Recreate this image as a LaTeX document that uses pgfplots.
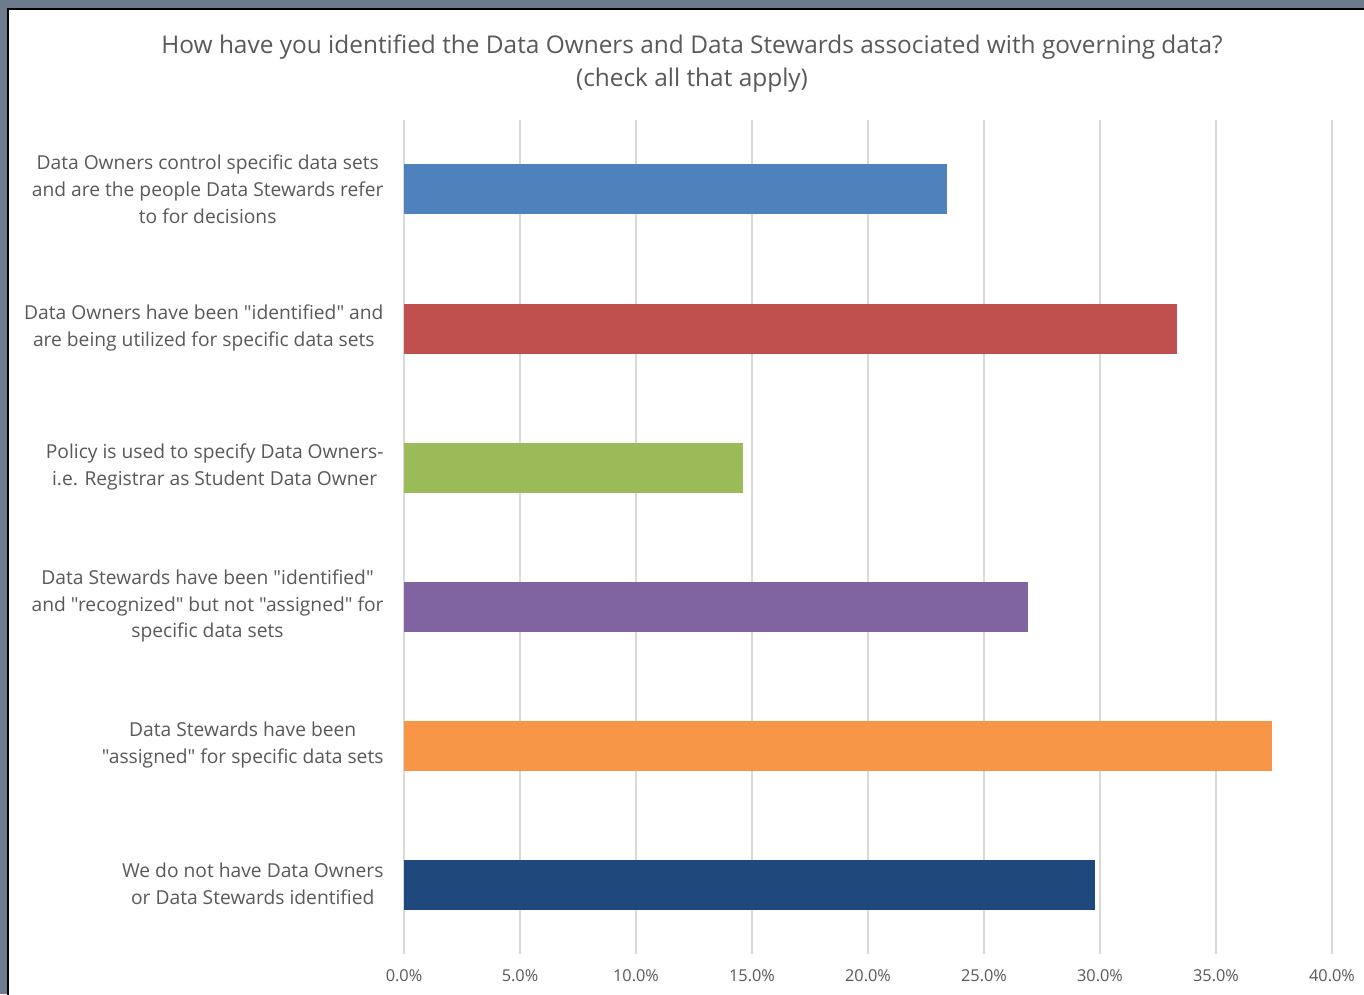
\documentclass[border=0pt]{standalone}
\usepackage{pgfplots}
\pgfplotsset{compat=1.18}
\usepackage{fontspec}
\setmainfont{Open Sans}
\newfontfamily\lab{Open Sans}
\definecolor{framegray}{HTML}{6E7B8C}
\definecolor{textgray}{HTML}{595959}
\definecolor{gridgray}{HTML}{D9D9D9}
\definecolor{cBlue}{HTML}{4F81BD}
\definecolor{cRed}{HTML}{C0504D}
\definecolor{cGreen}{HTML}{9BBB59}
\definecolor{cPurple}{HTML}{8064A2}
\definecolor{cOrange}{HTML}{F79646}
\definecolor{cNavy}{HTML}{1F497D}
\begin{document}
\begin{tikzpicture}[x=1bp,y=1bp]
\fill[framegray] (0,0) rectangle (1364,994);
\path[use as bounding box] (0,0) rectangle (1364,994);
\filldraw[fill=white,draw=black,line width=2bp] (8,-20) rectangle (1390,985);
\node[align=center,text=textgray,font=\lab\fontsize{24.5}{33}\selectfont] at (692,930)
  {How have you identified the Data Owners and Data Stewards associated with governing data?\\(check all that apply)};
\begin{axis}[
    at={(404bp,40bp)}, anchor=south west,
    scale only axis, width=928bp, height=834bp,
    xbar, bar width=50bp, bar shift=0pt,
    xmin=0, xmax=40, ymin=-0.5, ymax=5.5, y dir=reverse,
    xtick={0,5,...,40}, ytick={0,...,5},
    xmajorgrids, major grid style={draw=gridgray,line width=1.5bp},
    axis line style={draw=none}, major tick length=0pt,
    xticklabel={\pgfmathprintnumber[fixed,fixed zerofill,precision=1]{\tick}\%},
    /pgf/number format/assume math mode=true,
    xticklabel style={font=\lab\fontsize{16.4}{20}\selectfont,text=textgray,yshift=-12bp},
    yticklabels={
      {Data Owners control specific data sets\\and are the people Data Stewards refer\\to for decisions},
      {Data Owners have been "identified" and\\are being utilized for specific data sets},
      {Policy is used to specify Data Owners-\\i.e. Registrar as Student Data Owner},
      {Data Stewards have been "identified"\\and "recognized" but not "assigned" for\\specific data sets},
      {Data Stewards have been\\"assigned" for specific data sets},
      {We do not have Data Owners\\or Data Stewards identified}},
    yticklabel style={font=\lab\fontsize{19.3}{27}\selectfont,text=textgray,align=center,xshift=-17bp,yshift=0.5bp},
  ]
  \addplot[fill=cBlue,draw=none] coordinates {(23.4,0)};
  \addplot[fill=cRed,draw=none] coordinates {(33.3,1)};
  \addplot[fill=cGreen,draw=none] coordinates {(14.6,2)};
  \addplot[fill=cPurple,draw=none] coordinates {(26.9,3)};
  \addplot[fill=cOrange,draw=none] coordinates {(37.4,4)};
  \addplot[fill=cNavy,draw=none] coordinates {(29.8,5)};
\end{axis}
\end{tikzpicture}
\end{document}
